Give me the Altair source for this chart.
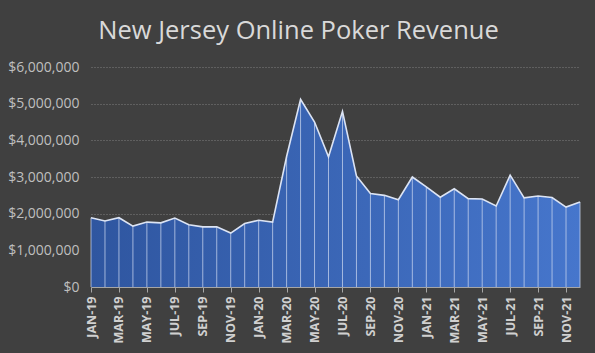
import altair as alt
import pandas as pd

months = [
    "JAN-19", "FEB-19", "MAR-19", "APR-19", "MAY-19", "JUN-19", "JUL-19", "AUG-19", "SEP-19", "OCT-19", "NOV-19", "DEC-19",
    "JAN-20", "FEB-20", "MAR-20", "APR-20", "MAY-20", "JUN-20", "JUL-20", "AUG-20", "SEP-20", "OCT-20", "NOV-20", "DEC-20",
    "JAN-21", "FEB-21", "MAR-21", "APR-21", "MAY-21", "JUN-21", "JUL-21", "AUG-21", "SEP-21", "OCT-21", "NOV-21", "DEC-21",
]
revenue = [
    1890000, 1800000, 1890000, 1660000, 1770000, 1750000, 1880000, 1700000, 1640000, 1640000, 1470000, 1730000,
    1820000, 1770000, 3560000, 5120000, 4500000, 3550000, 4790000, 3030000, 2550000, 2500000, 2380000, 3000000,
    2730000, 2450000, 2680000, 2410000, 2400000, 2210000, 3050000, 2430000, 2480000, 2440000, 2180000, 2320000,
]
y_ticks = [0, 1000000, 2000000, 3000000, 4000000, 5000000, 6000000]
tick_labels = months[::2]

df = pd.DataFrame({"month": months, "revenue": revenue})

x = alt.X("month:O", sort=months, scale=alt.Scale(type="point", padding=0),
          axis=alt.Axis(values=tick_labels, labelAngle=-90, labelFontWeight="bold",
                        labelFontSize=12.5, labelColor="#d0d0d0", labelFont="Open Sans",
                        domainColor="#a6a6a6", tickColor="#a6a6a6", tickSize=5,
                        labelPadding=4, title=None, grid=False, labelAlign="right",
                        labelBaseline="middle", labelOverlap=False))
y = alt.Y("revenue:Q", scale=alt.Scale(domain=[0, 6000000]),
          axis=alt.Axis(values=y_ticks, format="$,.0f", labelFontSize=14, labelColor="#bfbfbf",
                        labelFont="Open Sans", domain=False, ticks=False, labelPadding=12,
                        labelOverlap=False, tickCount=7,
                        gridColor="#7f7f7f", gridDash=[1, 2], gridWidth=1, title=None))

base = alt.Chart(df)

area = base.mark_area(
    color=alt.Gradient(gradient="linear", x1=0, y1=0, x2=1, y2=0,
                       stops=[alt.GradientStop(color="#2f56a0", offset=0),
                              alt.GradientStop(color="#4676cc", offset=1)]),
    opacity=1,
).encode(x=x, y=y)

rules = base.mark_rule(color="#c8d4ee", strokeWidth=1, opacity=0.75).encode(
    x=x, y=y, y2=alt.datum(0))

line = base.mark_line(color="#dce4f4", strokeWidth=1.6).encode(x=x, y=y)

chart = (area + rules + line).properties(
    width=489, height=220,
    background="#404040",
    padding={"left": 91, "top": 67, "right": 15, "bottom": 66},
    autosize=alt.AutoSizeParams(type="none"),
    title=alt.TitleParams("New Jersey Online Poker Revenue", fontSize=25.5, font="Open Sans",
                          fontWeight="normal", color="#d9d9d9", anchor="middle", dx=-37,
                          offset=16),
).configure_view(stroke=None)

chart.save("out.html", embed_options={"renderer": "svg", "actions": False})
